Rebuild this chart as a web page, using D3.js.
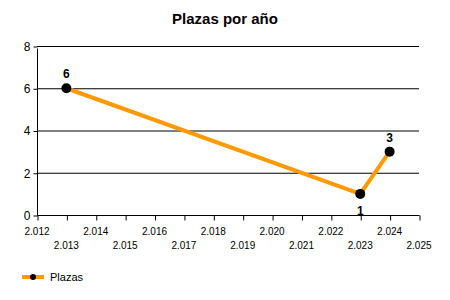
<!DOCTYPE html>
<html>
<head>
<meta charset="utf-8">
<script src="https://cdn.jsdelivr.net/npm/d3@7"></script>
<style>
	body { margin: 0; background: #fff; }
	svg { display: block; font-family: 'Liberation Sans', Arial, sans-serif; }
</style>
</head>
<body>
<div class="visContainer"></div>
<script>
const w = 450;
const h = 300;

// data
const years = [2013, 2023, 2024];
const plazas = [6, 1, 3];
const labelBelow = [false, true, false];
const xTicks = d3.range(2012, 2026);
const yTicks = [0, 2, 4, 6, 8];
const seriesName = 'Plazas';
const title = 'Plazas por año';

// years shown with a dot as thousands separator (2.012)
const fmt = (d) => d3.format('.3f')(d / 1000);

const svg = d3
	.select('.visContainer')
	.append('svg')
	.attr('width', w)
	.attr('height', h);

const xScale = d3.scaleLinear().domain([2012, 2025]).range([37, 419]);
const yScale = d3.scaleLinear().domain([0, 8]).range([215, 46]);

svg.append('text')
	.attr('x', 225)
	.attr('y', 24)
	.attr('text-anchor', 'middle')
	.style('font-size', '15px')
	.style('font-weight', 'bold')
	.text(title);

// gridlines
svg.append('g')
	.selectAll('line')
	.data(yTicks.filter((d) => d > 0))
	.enter()
	.append('line')
	.attr('x1', 37)
	.attr('x2', 419)
	.attr('y1', (d) => yScale(d) + 0.5)
	.attr('y2', (d) => yScale(d) + 0.5)
	.attr('stroke', '#000');

// y axis
const yAxis = d3.axisLeft(yScale).tickValues(yTicks).tickSize(4).tickPadding(3);
const yAxisGroup = svg.append('g')
	.attr('transform', 'translate(37.5,0.5)')
	.call(yAxis);
yAxisGroup.select('.domain').remove();
yAxisGroup.append('line').attr('y1', yScale(0)).attr('y2', yScale(8) + 2).attr('stroke', '#000');
yAxisGroup.selectAll('text').style('font-size', '12px').attr('fill', '#000');

// x axis
const xAxis = d3.axisBottom(xScale).tickValues(xTicks).tickSize(5).tickSizeOuter(0).tickFormat('');
const xAxisGroup = svg.append('g')
	.attr('transform', 'translate(0.5,' + (yScale(0) + 0.5) + ')')
	.call(xAxis);
xAxisGroup.select('.domain').attr('d', 'M37,0H419').attr('stroke', '#000');

svg.append('g')
	.selectAll('text')
	.data(xTicks)
	.enter()
	.append('text')
	.attr('x', (d) => xScale(d))
	.attr('y', (d) => (d % 2 === 0 ? 235 : 249))
	.attr('text-anchor', 'middle')
	.style('font-size', '10px')
	.text((d) => fmt(d));

// line
const pts = years.map((y, i) => [y, plazas[i]]);
svg.append('path')
	.datum(pts)
	.attr('fill', 'none')
	.attr('stroke', '#ff9900')
	.attr('stroke-width', 4)
	.attr('stroke-linejoin', 'round')
	.attr('d', d3.line().x((d) => xScale(d[0])).y((d) => yScale(d[1])));

svg.append('g')
	.selectAll('circle')
	.data(pts)
	.enter()
	.append('circle')
	.attr('cx', (d) => xScale(d[0]))
	.attr('cy', (d) => yScale(d[1]))
	.attr('r', 5)
	.attr('fill', '#000');

svg.append('g')
	.selectAll('text')
	.data(pts)
	.enter()
	.append('text')
	.attr('x', (d) => xScale(d[0]))
	.attr('y', (d, i) => yScale(d[1]) + (labelBelow[i] ? 21 : -10))
	.attr('text-anchor', 'middle')
	.style('font-size', '12px')
	.style('font-weight', 'bold')
	.text((d) => d[1]);

// legend
const lg = svg.append('g').attr('transform', 'translate(22,277)');
lg.append('line').attr('x1', 0).attr('x2', 22).attr('stroke', '#ff9900').attr('stroke-width', 4);
lg.append('circle').attr('cx', 11).attr('r', 3).attr('fill', '#000');
lg.append('text').attr('x', 28).attr('y', 4).style('font-size', '11px').text(seriesName);
</script>
</body>
</html>
